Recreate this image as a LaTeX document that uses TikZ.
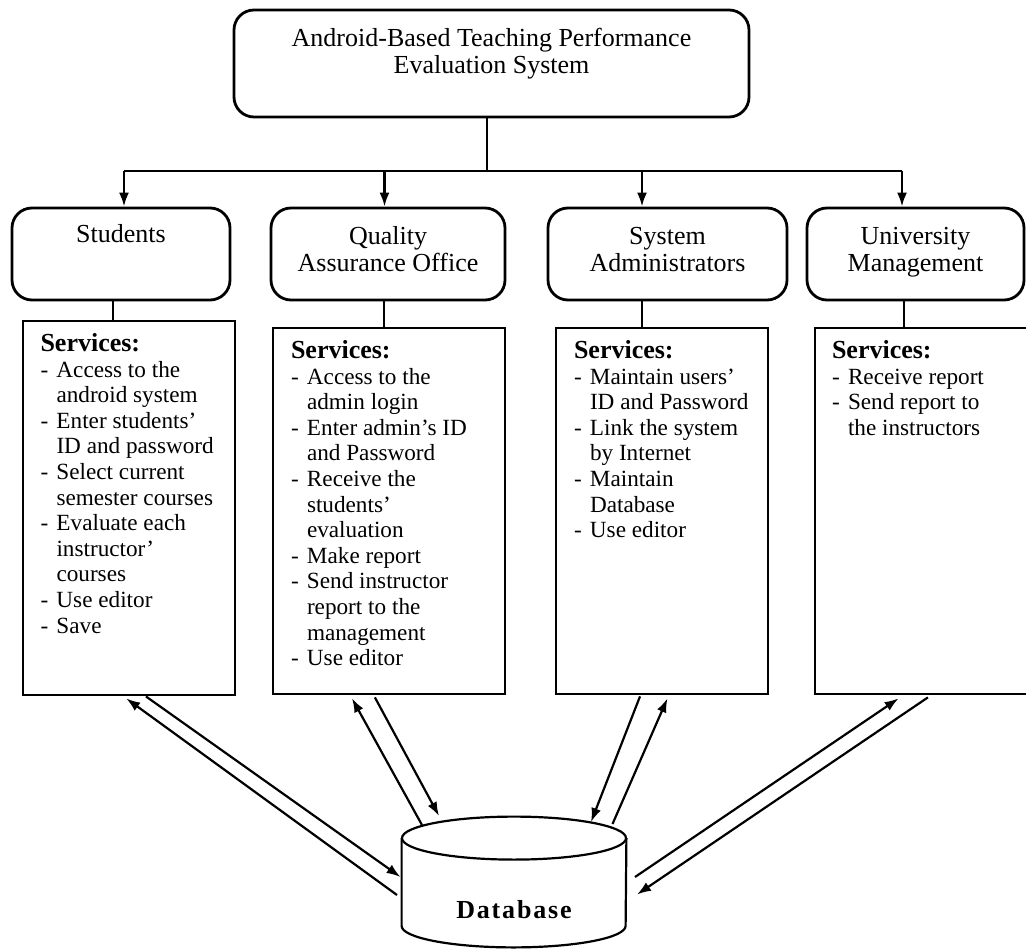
\documentclass[tikz,border=0pt]{standalone}
\usepackage{fontspec}
\setmainfont{Liberation Serif}
\usetikzlibrary{arrows.meta,calc}

\tikzset{
  base/.style={draw, line width=1.4pt, inner sep=0pt},
  headbox/.style={base, rounded corners=10pt, align=center, font=\fontsize{13}{13.5}\selectfont},
  catbox/.style={headbox, minimum height=46pt, text height=26pt, text depth=8pt},
  svcbox/.style={base, minimum height=183pt},
  svctext/.style={anchor=north west, inner sep=0pt, align=left, font=\fontsize{11.6}{12.8}\selectfont},
  dbnode/.style={minimum width=112pt, minimum height=65pt, inner sep=0pt, text height=40pt, text depth=4pt,
    font=\fontsize{13}{13}\selectfont\bfseries\addfontfeature{LetterSpace=7}},
  dbline/.style={line width=1.1pt},
  link/.style={line width=1.2pt},
  down/.style={link, -{Latex[length=7pt,width=5pt]}},
  flow/.style={line width=1.1pt, -{Latex[length=7pt,width=5pt]}},
}
\newcommand{\svchead}{{\fontsize{13}{12.8}\selectfont\bfseries Services:}}
\newcommand{\itm}{\makebox[8pt][l]{-}}
\newcommand{\cnt}{\hspace*{8pt}}

\begin{document}
\begin{tikzpicture}[x=0.5pt,y=-0.5pt]
  \useasboundingbox (0,0) rectangle (1026,951);

  % system and the four parties
  \node[headbox, minimum width=257.5pt, minimum height=53.5pt, text height=20pt, text depth=9.5pt] (tpes) at (491.5,63.5) {Android-Based Teaching Performance\\Evaluation System};
  \node[catbox, minimum width=109pt, text height=10pt, text depth=21pt] (stud) at (121,254) {Students};
  \node[catbox, minimum width=117pt] (qao) at (388,254) {Quality\\Assurance Office};
  \node[catbox, minimum width=119.5pt] (admin) at (667.5,254) {System\\Administrators};
  \node[catbox, minimum width=108.5pt] (mgmt) at (915.5,254) {University\\Management};

  % service boxes
  \node[svcbox, minimum width=106pt, minimum height=187pt] (svcstud) at (129,508) {};
  \node[svcbox, minimum width=116pt] (svcqao) at (389,511) {};
  \node[svcbox, minimum width=106pt] (svcadmin) at (662,511) {};
  \node[svcbox, minimum width=107.5pt] (svcmgmt) at (922.5,511) {};

  \node[svctext] (txtstud) at ($(svcstud.north west)+(18.5,13.5)$) {\svchead\\
    \itm Access to the\\ \cnt android system\\
    \itm Enter students'\\ \cnt ID and password\\
    \itm Select current\\ \cnt semester courses\\
    \itm Evaluate each\\ \cnt instructor'\\ \cnt courses\\
    \itm Use editor\\
    \itm Save};
  \node[svctext] (txtqao) at ($(svcqao.north west)+(19,13.5)$) {\svchead\\
    \itm Access to the\\ \cnt admin login\\
    \itm Enter admin's ID\\ \cnt and Password\\
    \itm Receive the\\ \cnt students'\\ \cnt evaluation\\
    \itm Make report\\
    \itm Send instructor\\ \cnt report to the\\ \cnt management\\
    \itm Use editor};
  \node[svctext] (txtadmin) at ($(svcadmin.north west)+(19,13.5)$) {\svchead\\
    \itm Maintain users'\\ \cnt ID and Password\\
    \itm Link the system\\ \cnt by Internet\\
    \itm Maintain\\ \cnt Database\\
    \itm Use editor};
  \node[svctext] (txtmgmt) at ($(svcmgmt.north west)+(18,13.5)$) {\svchead\\
    \itm Receive report\\
    \itm Send report to\\ \cnt the instructors};

  % database drum
  \node[dbnode] (db) at (514,882) {Database};
  \draw[dbline] ($(db.north west)+(0,21.5)$) -- ($(db.south west)+(0,-21.5)$)
    arc[start angle=180, end angle=0, x radius=112, y radius=21.5] -- ($(db.north east)+(0,21.5)$);
  \draw[dbline] ($(db.north)+(0,21.5)$) ellipse[x radius=112, y radius=21.5];

  % tree from the system
  \coordinate (bus) at (487,171);
  \draw[link] (tpes.south -| bus) -- (bus);
  \draw[link] ([xshift=1.5pt]stud.north |- bus) -- ([xshift=-6.75pt]mgmt.north |- bus);
  \foreach \n/\s in {stud/1.5pt, qao/-1.75pt, admin/-12.75pt, mgmt/-6.75pt}
    \draw[down] ([xshift=\s]\n.north |- bus) -- ([xshift=\s]\n.north);
  \foreach \n/\s in {stud/-4pt, qao/-2pt, admin/-12.75pt, mgmt/-5.75pt}
    \draw[link] ([xshift=\s]\n.south) -- ([xshift=\s]\n.south |- svc\n.north);

  % to and from the database
  \draw[flow] ($(db.center)+(-117,13)$) -- ($(svcstud.south west)+(104.6,2)$);
  \draw[flow] ($(svcstud.south west)+(124.3,0)$) -- ($(db.center)+(-113.5,-5)$);
  \draw[flow] ($(db.center)+(-92,-57)$) -- ($(svcqao.south west)+(80.4,3)$);
  \draw[flow] ($(svcqao.south west)+(103.3,2)$) -- ($(db.center)+(-75,-66)$);
  \draw[flow] ($(svcadmin.south west)+(85.4,1)$) -- ($(db.center)+(77,-60)$);
  \draw[flow] ($(db.center)+(98.5,-58)$) -- ($(svcadmin.south west)+(112.8,3)$);
  \draw[flow] ($(db.center)+(121,-5)$) -- ($(svcmgmt.south west)+(85,3)$);
  \draw[flow] ($(svcmgmt.south west)+(114.3,2)$) -- ($(db.center)+(123,12.5)$);
\end{tikzpicture}
\end{document}
